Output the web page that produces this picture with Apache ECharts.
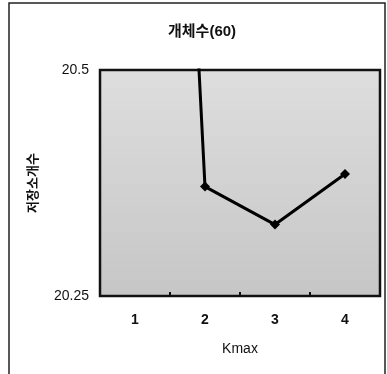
<!DOCTYPE html>
<html>
<head>
<meta charset="utf-8">
<script src="https://cdn.jsdelivr.net/npm/echarts@6/dist/echarts.min.js"></script>
<style>
  html, body { margin: 0; padding: 0; background: #fff; }
  #chart { width: 387px; height: 374px; }
</style>
</head>
<body>
<div id="chart"></div>
<script>
// 데이터
const categories = ['1', '2', '3', '4']
const storeCounts = [21.88, 20.371, 20.329, 20.385]
const yTicks = [20.25, 20.5]

const fontFamily = '"Liberation Sans", "Noto Sans CJK KR", sans-serif'

const chart = echarts.init(document.getElementById('chart'))

const option = {
  animation: false,
  title: {
    text: '개체수(60)',
    left: 163,
    top: 19,
    textStyle: {
      fontFamily: fontFamily,
      fontSize: 15,
      fontWeight: 'bold',
      color: '#111'
    }
  },
  graphic: [
    {
      type: 'rect',
      shape: { x: 9, y: 3, width: 376, height: 380 },
      style: { fill: 'none', stroke: '#222', lineWidth: 1.5 },
      silent: true
    }
  ],
  grid: {
    left: 100,
    right: 7,
    top: 70,
    bottom: 78,
    show: true,
    borderColor: '#111',
    borderWidth: 2.5,
    backgroundColor: {
      type: 'linear', x: 0, y: 0, x2: 0, y2: 1,
      colorStops: [
        { offset: 0, color: '#dedede' },
        { offset: 1, color: '#c6c6c6' }
      ]
    }
  },
  xAxis: {
    type: 'category',
    data: categories,
    boundaryGap: true,
    name: 'Kmax',
    nameLocation: 'middle',
    nameGap: 46,
    nameTextStyle: { fontFamily: fontFamily, fontSize: 14, color: '#111' },
    axisLine: { show: false },
    axisTick: { show: true, inside: true, length: 4, lineStyle: { color: '#111', width: 2 } },
    axisLabel: { margin: 17, fontFamily: fontFamily, fontSize: 14, color: '#111', fontWeight: 'bold' },
    splitLine: { show: false }
  },
  yAxis: {
    type: 'value',
    min: yTicks[0],
    max: yTicks[yTicks.length - 1],
    interval: 0.25,
    name: '저장소개수',
    nameLocation: 'middle',
    nameGap: 60,
    nameTextStyle: { fontFamily: fontFamily, fontSize: 13, fontWeight: 'bold', color: '#111' },
    axisLine: { show: false },
    axisTick: { show: false },
    axisLabel: {
      margin: 11,
      padding: [7, 0, 0, 0],
      fontFamily: fontFamily,
      fontSize: 14,
      color: '#111',
      formatter: v => String(v)
    },
    splitLine: { show: false }
  },
  series: [
    {
      type: 'line',
      data: storeCounts,
      clip: true,
      symbol: 'diamond',
      symbolSize: 10,
      lineStyle: { color: '#000', width: 3 },
      itemStyle: { color: '#000' }
    }
  ]
}

chart.setOption(option)
</script>
</body>
</html>
